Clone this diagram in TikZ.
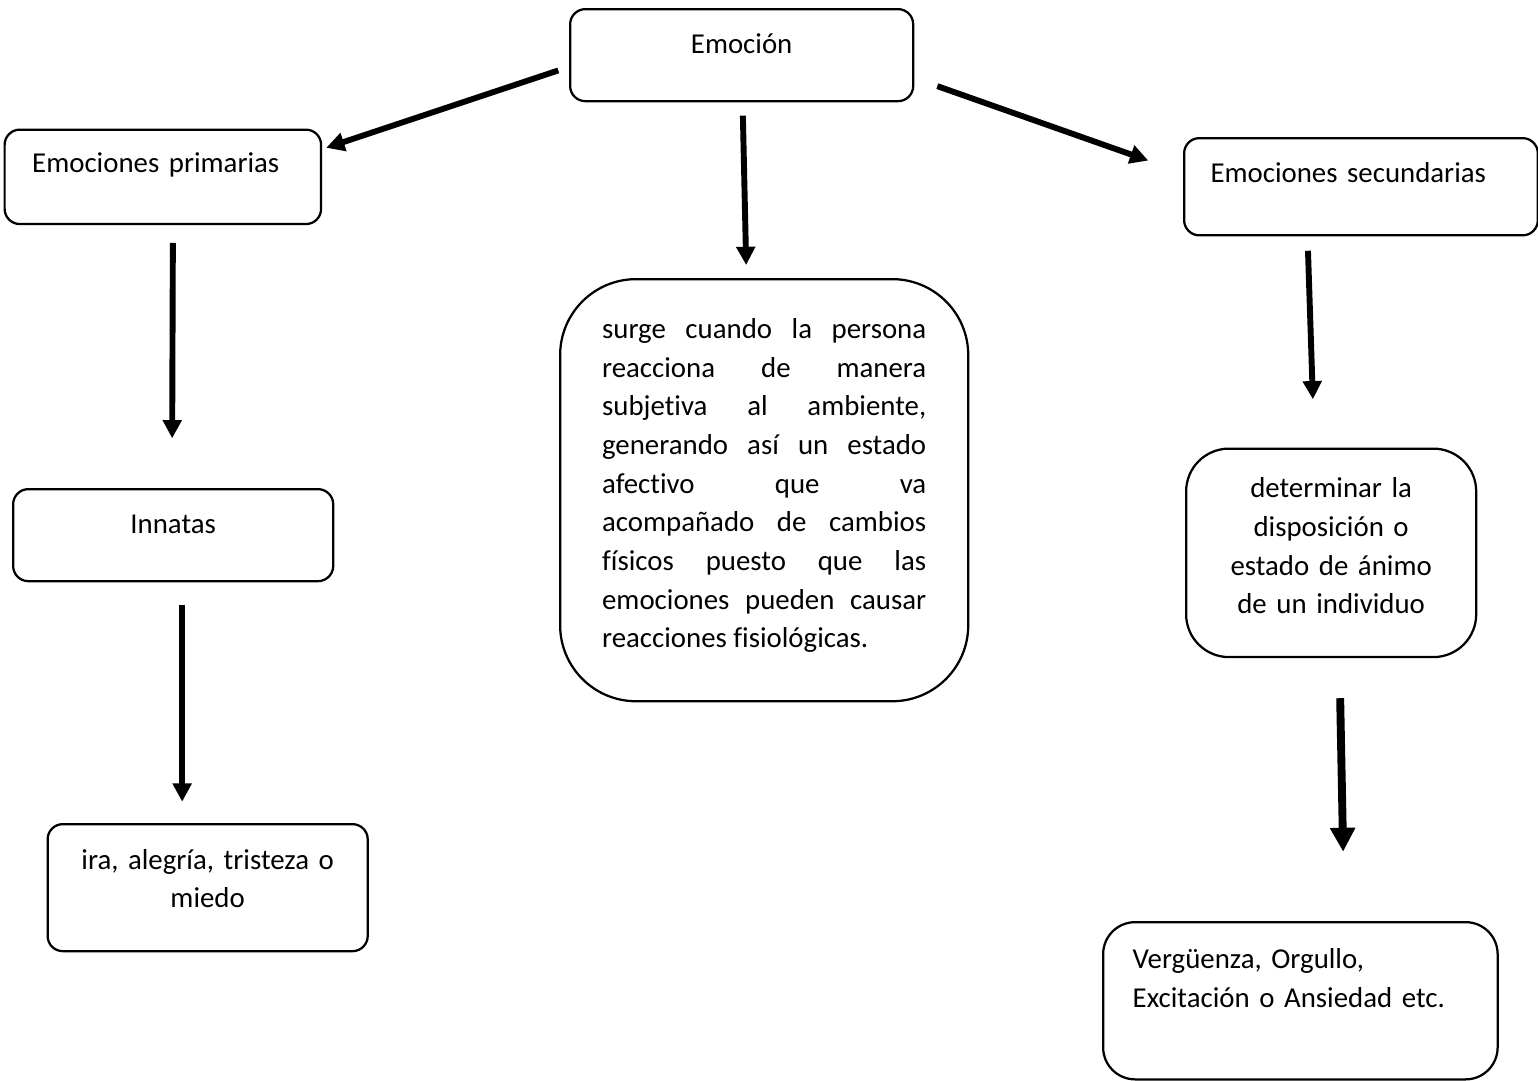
\documentclass[tikz,border=0pt]{standalone}
\usepackage{fontspec}
\setmainfont{Carlito}[Ligatures=NoCommon]
\usetikzlibrary{arrows.meta,calc}
\hyphenpenalty=10000
\tolerance=10000

\begin{document}
\begin{tikzpicture}[x=0.025cm,y=-0.025cm,
  every node/.style={font=\fontsize{20.5}{27.5}\selectfont},
  box/.style={draw,line width=1.6pt,rounded corners=0.38cm,
    inner sep=0pt,anchor=north west},
  arr/.style={line width=4.2pt,-{Triangle[length=13pt,width=13pt]}},
  bigarr/.style={line width=5.6pt,-{Triangle[length=17pt,width=17pt]}},]

  \useasboundingbox (0,0) rectangle (1538,1080);

  % emotion
  \node[box,minimum width=8.575cm,text width=8cm,align=center,
    text height=1.1cm,text depth=1.2cm] (emo) at (569,8) {Emoción};

  % primary emotions
  \node[box,minimum width=7.91cm,text width=6.53cm,align=left,
    text height=1.08cm,text depth=1.28cm] (prim) at (3.5,128.5)
    {Emociones primarias};
  \node[box,minimum width=8cm,text width=7cm,align=center,
    text height=1.12cm,text depth=1.18cm] (innat) at (12,488) {Innatas};
  \node[box,minimum width=8cm,text width=7.5cm,align=center,
    text height=1.125cm,text depth=2.05cm] (ira) at (46.5,823)
    {ira, alegría, tristeza o\\ miedo};

  % definition
  \node[box,rounded corners=1.9cm,minimum width=10.2cm,text width=8.1cm,
    align=justify,text height=1.48cm,text depth=9.07cm] (surge) at (559,278)
    {surge cuando la persona\linebreak reacciona de manera\linebreak
     subjetiva al ambiente,\linebreak generando así un estado\linebreak
     afectivo que va\linebreak acompañado de cambios\linebreak
     físicos puesto que las\linebreak emociones pueden causar\linebreak
     reacciones fisiológicas.};

  % secondary emotions
  \node[box,minimum width=8.84cm,text width=7.52cm,align=left,
    text height=1.12cm,text depth=1.31cm] (sec) at (1183,137)
    {Emociones secundarias};
  \node[box,rounded corners=1.07cm,minimum width=7.25cm,text width=6.5cm,
    align=center,text height=1.23cm,text depth=3.98cm] (det) at (1185,447.5)
    {determinar la\\ disposición o\\ estado de ánimo\\ de un individuo};
  \node[box,rounded corners=0.8cm,minimum width=9.86cm,text width=8.38cm,
    align=left,text height=1.16cm,text depth=2.77cm] (verg) at (1102,921)
    {Vergüenza, Orgullo,\\ Excitación o Ansiedad etc.};

  % arrows
  \draw[arr] ($(emo.west)+(-10.7,15.3)$) -- ($(prim.north east)+(4,19.3)$);
  \draw[arr] ($(emo.south)+(1.2,13.3)$) -- ($(surge.north)+(-18,-13)$);
  \draw[arr] ($(emo.east)+(23,31)$) -- ($(sec.west)+(-34.7,-26.2)$);
  \draw[arr] ($(prim.south)+(10,17.7)$) -- ($(innat.north)+(-1,-49.7)$);
  \draw[arr] ($(innat.south)+(9,23)$) -- ($(ira.north)+(-25.5,-21.3)$);
  \draw[arr] ($(sec.south)+(-53,14.3)$) -- ($(det.north)+(-18.3,-48.2)$);
  \draw[bigarr] ($(det.south)+(9,40)$) -- ($(verg.north)+(42.75,-69.3)$);

\end{tikzpicture}
\end{document}
